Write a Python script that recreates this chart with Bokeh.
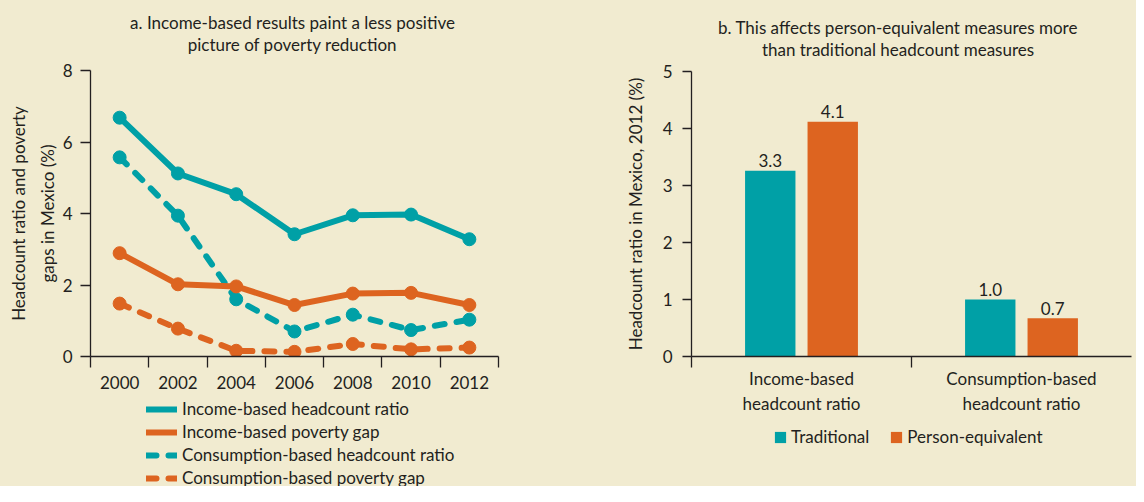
from bokeh.plotting import figure
from bokeh.models import Range1d, FixedTicker, Legend, LegendItem, ColumnDataSource, Label
from bokeh.layouts import row, column
from bokeh.transform import dodge
from bokeh.core.properties import value
from bokeh.embed import file_html
from bokeh.resources import INLINE

# ---------------- data ----------------
years = [2000, 2002, 2004, 2006, 2008, 2010, 2012]
income_headcount = [6.68, 5.12, 4.54, 3.42, 3.95, 3.97, 3.28]
income_gap = [2.89, 2.02, 1.96, 1.44, 1.76, 1.78, 1.44]
consumption_headcount = [5.57, 3.94, 1.60, 0.70, 1.17, 0.74, 1.03]
consumption_gap = [1.48, 0.78, 0.16, 0.13, 0.35, 0.20, 0.25]

bar_categories = ["Income-based\nheadcount ratio", "Consumption-based\nheadcount ratio"]
traditional = [3.26, 1.00]
person_equivalent = [4.12, 0.67]
traditional_labels = ["3.3", "1.0"]
person_equivalent_labels = ["4.1", "0.7"]

left_title = ["a. Income-based results paint a less positive", "picture of poverty reduction"]
right_title = ["b. This affects person-equivalent measures more", "than traditional headcount measures"]

# ---------------- style ----------------
BG = "#F1EBD0"
TEAL = "#00A0A6"
ORANGE = "#DD6420"
INK = "#231F20"
FONT = "Lato"
FS = "17px"
H = 486
W1 = 590
W2 = 1136 - W1
TH = 60         # title strip height
A_LEFT = 90     # frame left of panel a (page px)
B_LEFT = 691    # frame left of panel b (page px)
A_END = 398     # bottom of panel a figure
B_END = 416     # bottom of panel b figure
BGSTYLE = {"background-color": BG}


def style_axis(ax):
    ax.axis_line_color = INK
    ax.axis_line_width = 1.3
    ax.major_tick_line_color = INK
    ax.major_tick_line_width = 1.3
    ax.minor_tick_line_color = INK
    ax.minor_tick_line_width = 1.3
    ax.major_label_text_font = FONT
    ax.major_label_text_font_size = FS
    ax.major_label_text_color = INK
    ax.axis_label_text_font = FONT
    ax.axis_label_text_font_size = FS
    ax.axis_label_text_color = INK
    ax.axis_label_text_font_style = "normal"


def base_fig(width, height, x_range, y_range, mbl, mbr, mbt, mbb, axes=True):
    kw = {} if axes else dict(x_axis_type=None, y_axis_type=None)
    p = figure(width=width, height=height, x_range=x_range, y_range=y_range,
               output_backend="svg", toolbar_location=None,
               min_border_left=mbl, min_border_right=mbr,
               min_border_top=mbt, min_border_bottom=mbb, styles=BGSTYLE, **kw)
    p.background_fill_color = BG
    p.border_fill_color = BG
    p.outline_line_color = None
    p.grid.grid_line_color = None
    return p


def strip(width, height):
    return base_fig(width, height, Range1d(0, 1), Range1d(0, 1), 0, 0, 0, 0, axes=False)


def title_strip(width, lines, cx, baselines):
    t = strip(width, TH)
    for txt, b in zip(lines, baselines):
        t.add_layout(Label(x=cx, y=TH - b, x_units="screen", y_units="screen", text=txt,
                           text_align="center", text_baseline="alphabetic",
                           text_font=FONT, text_font_size=FS, text_color=INK))
    return t


# legend proxies: one row of NaN so the legend can draw its swatch, nothing visible
proxy = ColumnDataSource(dict(x=[float("nan")], y=[float("nan")]))

# ---------------- panel a: lines ----------------
ta = title_strip(W1, left_title, 292 - A_LEFT, [22, 44])

pa = base_fig(W1, A_END - TH, Range1d(years[0] - 1, years[-1] + 1), Range1d(0, 8),
              A_LEFT, W1 - 498, 70 - TH, A_END - 356)

src = ColumnDataSource(dict(year=years, ih=income_headcount, ig=income_gap,
                            ch=consumption_headcount, cg=consumption_gap))

series = [
    ("ih", TEAL, "solid", "Income-based headcount ratio"),
    ("ig", ORANGE, "solid", "Income-based poverty gap"),
    ("ch", TEAL, "10 12", "Consumption-based headcount ratio"),
    ("cg", ORANGE, "10 12", "Consumption-based poverty gap"),
]
for col, color, dash, name in reversed(series):
    pa.line("year", col, source=src, line_color=color, line_width=6,
            line_dash=dash, line_cap="round", line_join="round")
    pa.scatter("year", col, source=src, size=13, fill_color=color, line_color=color)

xa = pa.xaxis[0]
xa.ticker = FixedTicker(ticks=years, minor_ticks=[y - 1 for y in years] + [years[-1] + 1])
xa.major_tick_out = 0
xa.major_tick_in = 0
xa.minor_tick_out = 11
xa.minor_tick_in = 0
xa.major_label_standoff = 8
style_axis(xa)

ya = pa.yaxis[0]
ya.ticker = FixedTicker(ticks=[0, 2, 4, 6, 8], minor_ticks=[])
ya.major_tick_out = 10
ya.major_tick_in = 0
ya.minor_tick_out = 0
ya.minor_tick_in = 0
ya.major_label_standoff = 8
ya.axis_label = "Headcount ratio and poverty\ngaps in Mexico (%)"
ya.axis_label_standoff = 2
ya.axis_label_text_line_height = 1.35
style_axis(ya)

LA = H - A_END
la = strip(W1, LA)
items = []
for col, color, dash, name in series:
    r = la.line("x", "y", source=proxy, line_color=color, line_width=6,
                line_dash=dash, line_cap="round")
    items.append(LegendItem(label=name, renderers=[r]))
la.add_layout(Legend(items=items, location=(146 - A_LEFT, LA - 90), orientation="vertical",
                     padding=0, margin=0, spacing=2, glyph_width=31, glyph_height=20,
                     label_height=20, label_standoff=5,
                     label_text_font=FONT, label_text_font_size=FS,
                     label_text_color=INK, background_fill_alpha=0,
                     border_line_alpha=0), "center")

# ---------------- panel b: bars ----------------
tb = title_strip(W2, right_title, 897.5 - B_LEFT, [27, 49])

pb = base_fig(W2, B_END - TH, Range1d(0, len(bar_categories)), Range1d(0, 5),
              B_LEFT - W1, 5, 71 - TH, B_END - 356)

bsrc = ColumnDataSource(dict(x=[i + 0.5 for i in range(len(bar_categories))],
                             trad=traditional, pe=person_equivalent,
                             tl=traditional_labels, pl=person_equivalent_labels))

pb.vbar(x=dodge("x", -0.142, range=pb.x_range), top="trad", width=0.229,
        source=bsrc, fill_color=TEAL, line_color=None)
pb.vbar(x=dodge("x", 0.142, range=pb.x_range), top="pe", width=0.229,
        source=bsrc, fill_color=ORANGE, line_color=None)
pb.text(x=dodge("x", -0.142, range=pb.x_range), y="trad", text="tl", source=bsrc,
        text_align="center", text_baseline="alphabetic", y_offset=-10,
        text_font=value(FONT), text_font_size=FS, text_color=INK)
pb.text(x=dodge("x", 0.142, range=pb.x_range), y="pe", text="pl", source=bsrc,
        text_align="center", text_baseline="alphabetic", y_offset=-10,
        text_font=value(FONT), text_font_size=FS, text_color=INK)

xb = pb.xaxis[0]
centers = [i + 0.5 for i in range(len(bar_categories))]
xb.ticker = FixedTicker(ticks=centers, minor_ticks=list(range(len(bar_categories))))
xb.major_label_overrides = {c: lab for c, lab in zip(centers, bar_categories)}
xb.major_tick_out = 0
xb.major_tick_in = 0
xb.minor_tick_out = 11
xb.minor_tick_in = 0
xb.major_label_standoff = 0
style_axis(xb)

yb = pb.yaxis[0]
yb.ticker = FixedTicker(ticks=[0, 1, 2, 3, 4, 5], minor_ticks=[])
yb.major_tick_out = 9
yb.major_tick_in = 0
yb.minor_tick_out = 0
yb.minor_tick_in = 0
yb.major_label_standoff = 10
yb.axis_label = "Headcount ratio in Mexico, 2012 (%)"
yb.axis_label_standoff = 14
style_axis(yb)

LB = H - B_END
lb = strip(W2, LB)
pr = []
for color in (TEAL, ORANGE):
    pr.append(lb.vbar(x="x", top="y", width=0.1, source=proxy, fill_color=color, line_color=None))
lb.add_layout(Legend(items=[LegendItem(label="Traditional", renderers=[pr[0]]),
                            LegendItem(label="Person-equivalent", renderers=[pr[1]])],
                     location=(773 - B_LEFT, LB - 31), orientation="horizontal",
                     padding=0, margin=0, spacing=20, glyph_width=14, glyph_height=14,
                     label_height=20, label_standoff=4,
                     label_text_font=FONT, label_text_font_size=FS,
                     label_text_color=INK, background_fill_alpha=0,
                     border_line_alpha=0), "center")

layout = row(column(ta, pa, la, styles=BGSTYLE), column(tb, pb, lb, styles=BGSTYLE),
             styles=BGSTYLE)
open("out.html", "w").write(file_html(layout, INLINE))
